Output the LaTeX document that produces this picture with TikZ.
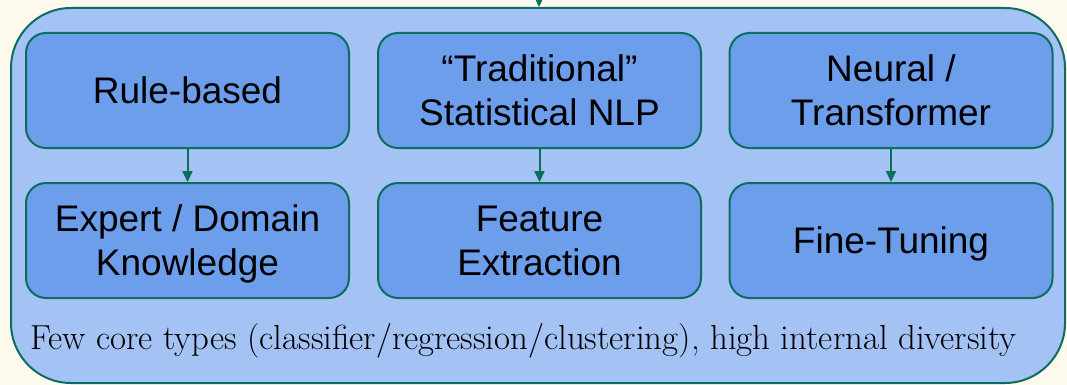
\documentclass[tikz,border=0pt]{standalone}
\usepackage{fontspec}
\newfontfamily\arialf{Liberation Sans}
\usetikzlibrary{arrows.meta}
\definecolor{bgcream}{HTML}{FFF9EE}
\definecolor{outerfill}{HTML}{A4C2F4}
\definecolor{innerfill}{HTML}{6D9EEB}
\definecolor{edgecol}{HTML}{0B6E5F}
\tikzset{
  outerbox/.style={draw=edgecol, fill=outerfill, line width=2pt, rounded corners=60pt},
  stagebox/.style={draw=edgecol, fill=innerfill, line width=2pt, rounded corners=20pt,
    minimum width=323pt, minimum height=115pt, inner sep=0pt, align=center, text depth=0pt,
    font=\arialf\fontsize{37}{44}\selectfont, text=black},
  flow/.style={draw=edgecol, line width=2pt, -{Triangle[width=10pt,length=11pt]}},
}
\begin{document}
\begin{tikzpicture}[x=1pt,y=-1pt]
\useasboundingbox (0,0) rectangle (1067,385);
\fill[bgcream] (0,0) rectangle (1067,385);
\node[outerbox, minimum width=1054pt, minimum height=375pt, inner sep=0pt] (outer) at (538,195.5) {};
\coordinate (src) at (539,-6);
\draw[flow] (src) -- (src |- outer.north);
\node[stagebox] (rule) at (187.5,90.5) {Rule-based};
\node[stagebox] (trad) at (539.5,90.5) {“Traditional”\\Statistical NLP};
\node[stagebox] (neur) at (891,90.5) {Neural /\\Transformer};
\node[stagebox] (expert) at (187.5,240.5) {Expert / Domain\\Knowledge};
\node[stagebox] (feat) at (539.5,240.5) {Feature\\Extraction};
\node[stagebox] (fine) at (891,240.5) {Fine-Tuning};
\draw[flow] (rule) -- (expert);
\draw[flow] (trad) -- (feat);
\draw[flow] (neur) -- (fine);
\node[anchor=base west, inner sep=0pt, font=\fontsize{34.8}{40}\selectfont] (note) at (30,349) {Few core types (classifier/regression/clustering), high internal diversity};
\end{tikzpicture}
\end{document}
